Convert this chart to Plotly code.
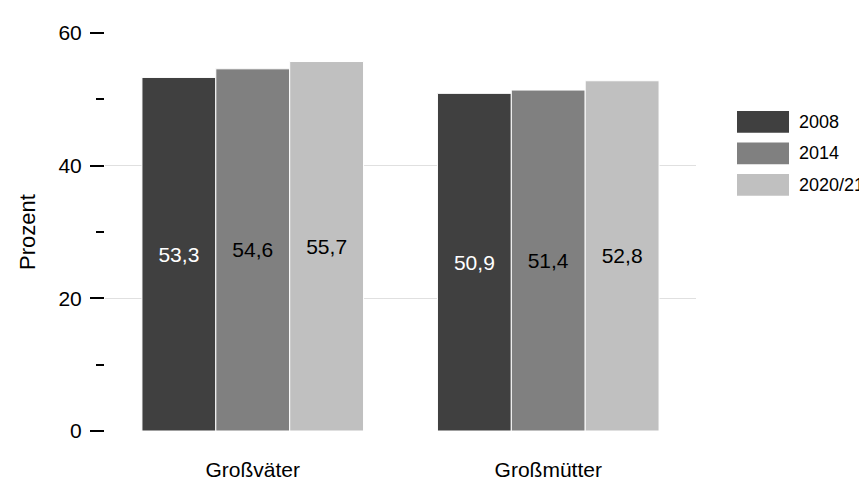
import plotly.graph_objects as go

categories = ["Großväter", "Großmütter"]
series_names = ["2008", "2014", "2020/21"]
values_2008 = [53.3, 50.9]
values_2014 = [54.6, 51.4]
values_2020 = [55.7, 52.8]
y_tick_vals = [0, 20, 40, 60]
y_tick_text = ["0", "20", "40", "60"]

series_values = [values_2008, values_2014, values_2020]
colors = ["#404040", "#808080", "#c0c0c0"]
text_colors = ["white", "black", "black"]

FONT = "Liberation Sans, Arial, sans-serif"
W, H = 867, 485
L, R, T, B = 97, 179, 25, 47
pw, ph = W - L - R, H - T - B

fig = go.Figure()
for name, vals, c, tc in zip(series_names, series_values, colors, text_colors):
    fig.add_trace(go.Bar(
        x=categories, y=vals, name=name,
        marker=dict(color=c, line=dict(color="white", width=1)),
        texttemplate="%{y:.1f}", textposition="inside",
        insidetextanchor="middle", textangle=0,
        textfont=dict(color=tc, size=21, family=FONT),
        showlegend=False,
    ))

# legend drawn as swatches + labels
sw_x0, sw_x1 = 729, 781
sw_h = 22.5
first_top = 106
step = 32.7
shapes, annotations = [], []
for i, (name, c) in enumerate(zip(series_names, colors)):
    top = first_top + i * step
    bot = top + sw_h
    shapes.append(dict(type="rect", xref="paper", yref="paper",
                       x0=(sw_x0 - L) / pw, x1=(sw_x1 - L) / pw,
                       y0=(H - B - bot) / ph, y1=(H - B - top) / ph,
                       fillcolor=c, line=dict(width=0)))
    annotations.append(dict(xref="paper", yref="paper",
                            x=(790 - L) / pw, y=(H - B - (top + bot) / 2) / ph,
                            text=name, showarrow=False, xanchor="left", yanchor="middle",
                            borderpad=0,
                            font=dict(size=18, family=FONT, color="black")))

fig.update_layout(
    width=W, height=H,
    margin=dict(l=L, r=R, t=T, b=B),
    plot_bgcolor="white", paper_bgcolor="white",
    barmode="group", bargap=0.25, bargroupgap=0,
    separators=",.",
    font=dict(family=FONT, size=21, color="black"),
    shapes=shapes, annotations=annotations,
    xaxis=dict(showgrid=False, showline=False, ticks="", ticklabelstandoff=24,
               tickfont=dict(size=21)),
    yaxis=dict(range=[0, 60], tickvals=y_tick_vals, ticktext=y_tick_text,
               showgrid=True, gridcolor="#e0e0e0", gridwidth=1, zeroline=False,
               showline=False, ticks="outside", ticklen=14, tickwidth=2, tickcolor="black",
               ticklabelstandoff=4, tickfont=dict(size=21),
               minor=dict(dtick=10, ticks="outside", ticklen=8, tickwidth=2,
                          tickcolor="black", showgrid=False),
               title=dict(text="Prozent", font=dict(size=22), standoff=16)),
)

fig.write_html("out.html")
